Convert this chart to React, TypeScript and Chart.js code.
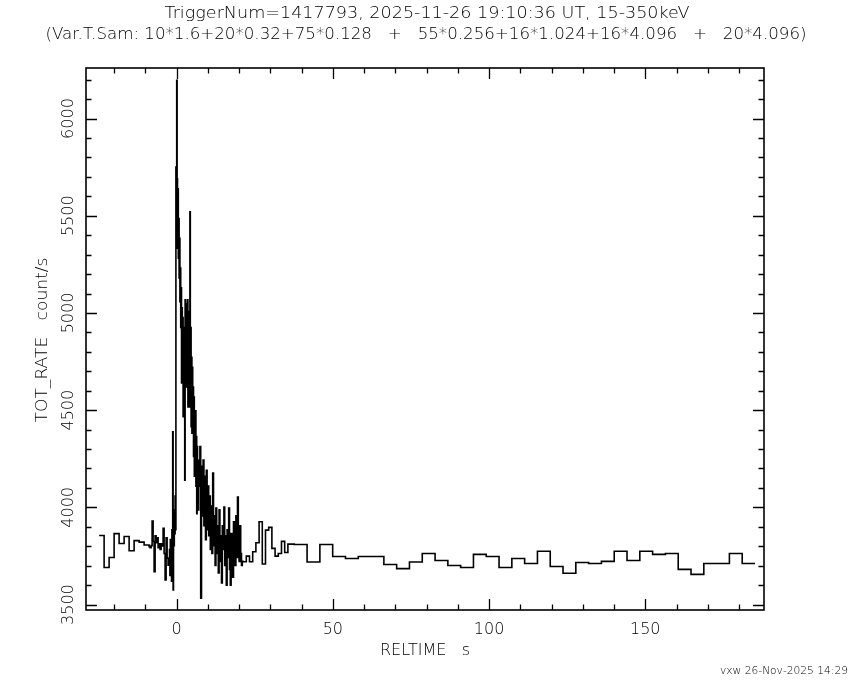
import { useEffect, useRef } from 'react';
import { Chart, registerables } from 'chart.js';

Chart.register(...registerables);

// ---------- text ----------
const TITLE_1 = 'TriggerNum=1417793, 2025-11-26 19:10:36 UT, 15-350keV';
const TITLE_2 = '(Var.T.Sam: 10*1.6+20*0.32+75*0.128   +   55*0.256+16*1.024+16*4.096   +   20*4.096)';
const X_LABEL = 'RELTIME   s';
const Y_LABEL = 'TOT_RATE   count/s';
const STAMP = 'vxw 26-Nov-2025 14:29';

// ---------- data ----------
const T_START = -24.8; // s, start of first bin
// [number of bins, bin width in s]
const binSegments: [number, number][] = [
  [10, 1.6],
  [20, 0.32],
  [75, 0.128],
  [55, 0.256],
  [16, 1.024],
  [36, 4.096],
];

const rate1p6 = [3855, 3691, 3742, 3865, 3814, 3850, 3777, 3829, 3821, 3806];

const rate0p32 = [
  3798, 3793, 3803, 3930, 3824, 3669, 3854, 3818, 3844, 3793,
  3813, 3783, 3813, 3801, 3892, 3763, 3626, 3844, 3739, 3703,
];

const rate0p128 = [
  3722, 3783, 3650, 3834, 3701, 3763, 3620, 3885, 3742, 4389,
  3575, 3905, 3803, 3987, 3865, 4058, 3885, 5751, 5741, 6197,
  5690, 5333, 5639, 5282, 5486, 5180, 5384, 5058, 5231, 4925,
  5129, 4640, 5027, 4772, 4976, 4466, 4925, 4568, 4823, 4140,
  5068, 4721, 5048, 4619, 4976, 4823, 5068, 4517, 5007, 4742,
  4874, 4517, 5520, 4640, 4925, 4415, 4772, 4382, 4721, 4466,
  4619, 4262, 4568, 4160, 4436, 4211, 4497, 4109, 4364, 3967,
  4313, 4058, 4242, 3987, 4160,
];

const rate0p256 = [
  4109, 4313, 3533, 4211, 3956, 4243, 3905, 4160, 3834, 4191,
  3885, 4109, 3854, 4058, 3783, 4007, 3763, 4176, 3803, 3956,
  3701, 3997, 3763, 3905, 3662, 3987, 3722, 3854, 3611, 3905,
  3783, 4001, 3701, 3854, 3600, 3885, 3742, 3997, 3681, 3599,
  3865, 3763, 3641, 3926, 3783, 3701, 3956, 3742, 4053, 3803,
  3722, 3905, 3763, 3701, 3722,
];

const rate1p024 = [
  3720, 3749, 3720, 3772, 3818, 3926, 3709, 3883, 3897, 3789,
  3749, 3763, 3825, 3768, 3811, 3811,
];

const rate4p096 = [
  3809, 3719, 3809, 3747, 3737, 3747, 3747, 3706, 3685, 3719,
  3763, 3727, 3701, 3691, 3758, 3747, 3691, 3737, 3711, 3774,
  3696, 3661, 3716, 3711, 3722, 3774, 3727, 3774, 3758, 3763,
  3681, 3655, 3711, 3711, 3763, 3711,
];

const xMajorTicks = [0, 50, 100, 150];
const yMajorTicks = [3500, 4000, 4500, 5000, 5500, 6000];

const X_MIN = -29;
const X_MAX = 188;
const Y_MIN = 3472;
const Y_MAX = 6260;

// ---------- layout ----------
const W = 850;
const H = 680;
const AREA = { left: 86, right: 764, top: 68, bottom: 610 };
const FONT_FAMILY = '"DejaVu Sans", "Liberation Sans", sans-serif';

function buildPoints() {
  const rates = [...rate1p6, ...rate0p32, ...rate0p128, ...rate0p256, ...rate1p024, ...rate4p096];
  const widths: number[] = [];
  binSegments.forEach(([n, w]) => {
    for (let i = 0; i < n; i++) widths.push(w);
  });
  const pts: { x: number; y: number }[] = [];
  let t = T_START;
  rates.forEach((v, i) => {
    pts.push({ x: t, y: v });
    t += widths[i];
  });
  pts.push({ x: t, y: rates[rates.length - 1] });
  return pts;
}

function fitText(
  ctx: CanvasRenderingContext2D,
  text: string,
  x: number,
  y: number,
  size: number,
  width: number | null,
  align: 'left' | 'center' | 'right',
  rotate = 0,
) {
  ctx.save();
  ctx.font = `200 ${size}px ${FONT_FAMILY}`;
  ctx.textBaseline = 'alphabetic';
  ctx.textAlign = align;
  ctx.fillStyle = '#000';
  ctx.translate(x, y);
  if (rotate) ctx.rotate(rotate);
  if (width) {
    const m = ctx.measureText(text).width;
    ctx.scale(width / m, 1);
  }
  ctx.fillText(text, 0, 0);
  ctx.restore();
}

const framePlugin = {
  id: 'pgFrame',
  afterDraw(chart: any) {
    const ctx: CanvasRenderingContext2D = chart.ctx;
    const xs = chart.scales.x;
    const ys = chart.scales.y;
    const { left, right, top, bottom } = chart.chartArea;
    ctx.save();
    ctx.strokeStyle = '#000';
    ctx.lineWidth = 1.6;
    ctx.strokeRect(left, top, right - left, bottom - top);

    ctx.lineWidth = 1.3;
    ctx.beginPath();
    // x ticks (bottom & top, inward)
    for (let v = -20; v <= 180; v += 10) {
      const px = Math.round(xs.getPixelForValue(v)) + 0.5;
      const len = xMajorTicks.includes(v) ? 11 : 5.5;
      ctx.moveTo(px, bottom);
      ctx.lineTo(px, bottom - len);
      ctx.moveTo(px, top);
      ctx.lineTo(px, top + len);
    }
    // y ticks (left & right, inward)
    for (let v = 3500; v <= 6200; v += 100) {
      const py = Math.round(ys.getPixelForValue(v)) + 0.5;
      const len = yMajorTicks.includes(v) ? 11 : 5.5;
      ctx.moveTo(left, py);
      ctx.lineTo(left + len, py);
      ctx.moveTo(right, py);
      ctx.lineTo(right - len, py);
    }
    ctx.stroke();
    ctx.restore();

    // tick labels
    xMajorTicks.forEach((v) => {
      fitText(ctx, String(v), xs.getPixelForValue(v), 634, 16, null, 'center');
    });
    yMajorTicks.forEach((v) => {
      fitText(ctx, String(v), 73, ys.getPixelForValue(v), 16, null, 'center', -Math.PI / 2);
    });

    // titles & labels
    fitText(ctx, TITLE_1, 427, 18, 16, 525, 'center');
    fitText(ctx, TITLE_2, 426, 39, 16, 761, 'center');
    fitText(ctx, X_LABEL, 425, 655, 16, 90, 'center');
    fitText(ctx, Y_LABEL, 47, 340, 16, 165, 'center', -Math.PI / 2);
    fitText(ctx, STAMP, 848, 674, 11, 128, 'right');
  },
};

export default function App() {
  const ref = useRef<HTMLCanvasElement | null>(null);

  useEffect(() => {
    const canvas = ref.current;
    if (!canvas) return;
    const chart = new Chart(canvas, {
      type: 'line',
      data: {
        datasets: [
          {
            data: buildPoints(),
            borderColor: '#000',
            borderWidth: 1.6,
            pointRadius: 0,
            stepped: 'before',
            fill: false,
            tension: 0,
          },
        ],
      },
      options: {
        responsive: false,
        animation: false,
        devicePixelRatio: 1,
        layout: {
          padding: {
            left: AREA.left,
            right: W - AREA.right,
            top: AREA.top,
            bottom: H - AREA.bottom,
          },
        },
        plugins: {
          legend: { display: false },
          tooltip: { enabled: false },
          title: { display: false },
        },
        scales: {
          x: { type: 'linear', min: X_MIN, max: X_MAX, display: false },
          y: { type: 'linear', min: Y_MIN, max: Y_MAX, display: false },
        },
      },
      plugins: [framePlugin],
    });
    return () => chart.destroy();
  }, []);

  return (
    <div style={{ position: 'fixed', left: 0, top: 0, width: W, height: H, background: '#fff' }}>
      <canvas ref={ref} width={W} height={H} style={{ width: W, height: H, display: 'block' }} />
    </div>
  );
}
